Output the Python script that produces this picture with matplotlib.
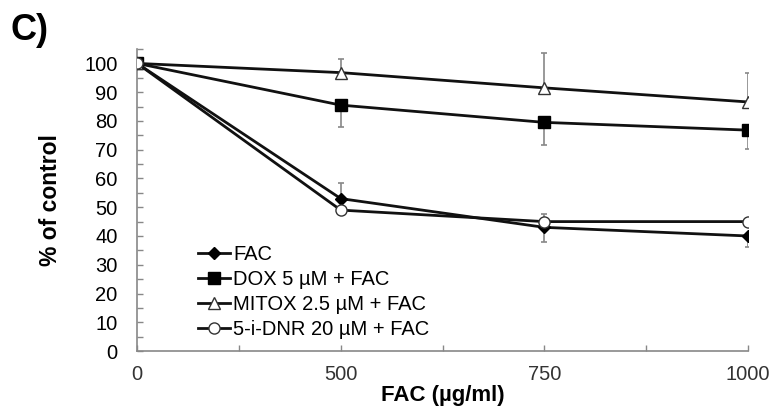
import matplotlib
matplotlib.use("Agg")
import matplotlib.pyplot as plt
import numpy as np

plt.rcParams['font.family'] = ['Liberation Sans', 'DejaVu Sans']

categories = ["0", "500", "750", "1000"]
fac = [100, 53, 43, 40]
fac_up = [0, 5.5, 0, 0]
fac_dn = [0, 0, 5, 4]
dox = [100, 85.5, 79.5, 76.8]
dox_up = [0, 0, 0, 0]
dox_dn = [0, 7.6, 8, 6.7]
mitox = [100, 96.8, 91.5, 86.6]
mitox_up = [0, 4.6, 12.2, 10]
mitox_dn = [0, 0, 0, 0]
dnr = [100, 49, 45, 45]
dnr_up = [0, 0, 2.5, 0]
dnr_dn = [0, 0, 0, 0]
labels = ["FAC", "DOX 5 \u00b5M + FAC", "MITOX 2.5 \u00b5M + FAC", "5-i-DNR 20 \u00b5M + FAC"]
yticks = list(range(0, 101, 10))

fig = plt.figure(figsize=(7.75, 4.12), dpi=100)
ax = fig.add_axes([0.177, 0.148, 0.788, 0.733])
x = np.arange(len(categories))

series = [
    (fac, fac_dn, fac_up, dict(marker='D', markersize=6, markerfacecolor='black', markeredgecolor='black')),
    (dox, dox_dn, dox_up, dict(marker='s', markersize=8, markerfacecolor='black', markeredgecolor='black')),
    (mitox, mitox_dn, mitox_up, dict(marker='^', markersize=8, markerfacecolor='white', markeredgecolor='#333333', markeredgewidth=1)),
    (dnr, dnr_dn, dnr_up, dict(marker='o', markersize=8, markerfacecolor='white', markeredgecolor='#333333', markeredgewidth=1)),
]
handles = []
for (vals, dn, up, mk), lab in zip(series, labels):
    ax.errorbar(x, vals, yerr=[dn, up], fmt='none', ecolor='#888888', elinewidth=1.2,
                capsize=2.5, capthick=1.2, zorder=2)
    h, = ax.plot(x, vals, color='#111111', linewidth=2, label=lab, zorder=3, **mk)
    handles.append(h)

ax.set_xlim(0, 3)
ax.set_ylim(0, 105)
ax.set_xticks(x)
ax.set_xticklabels(categories)
ax.set_xticks([0.5, 1.5, 2.5], minor=True)
ax.set_yticks(yticks)
ax.set_yticks(np.arange(5, 106, 10), minor=True)
for s in ['top', 'right']:
    ax.spines[s].set_visible(False)
for s in ['left', 'bottom']:
    ax.spines[s].set_color('#888888')
    ax.spines[s].set_linewidth(1.2)
ax.tick_params(axis='both', which='both', direction='in', color='#888888', width=1, length=4)
ax.tick_params(axis='y', which='major', labelsize=14.5, pad=14)
ax.tick_params(axis='x', which='major', labelsize=14.5, pad=10)
for t in ax.get_xticklabels():
    t.set_color('#333333')
ax.set_xlabel("FAC (\u00b5g/ml)", fontsize=16, fontweight='bold', labelpad=1)
ax.set_ylabel("% of control", fontsize=16.5, fontweight='bold', labelpad=16)

leg = ax.legend(handles=handles, loc='lower left', bbox_to_anchor=(0.1, 0.04), frameon=False,
                fontsize=14.5, handlelength=1.6, handletextpad=0.15, labelspacing=0.3, borderpad=0,
                borderaxespad=0)

fig.text(0.014, 0.925, "C)", fontsize=26, fontweight='bold', va='center', ha='left')

fig.savefig("out.png", dpi=100)
